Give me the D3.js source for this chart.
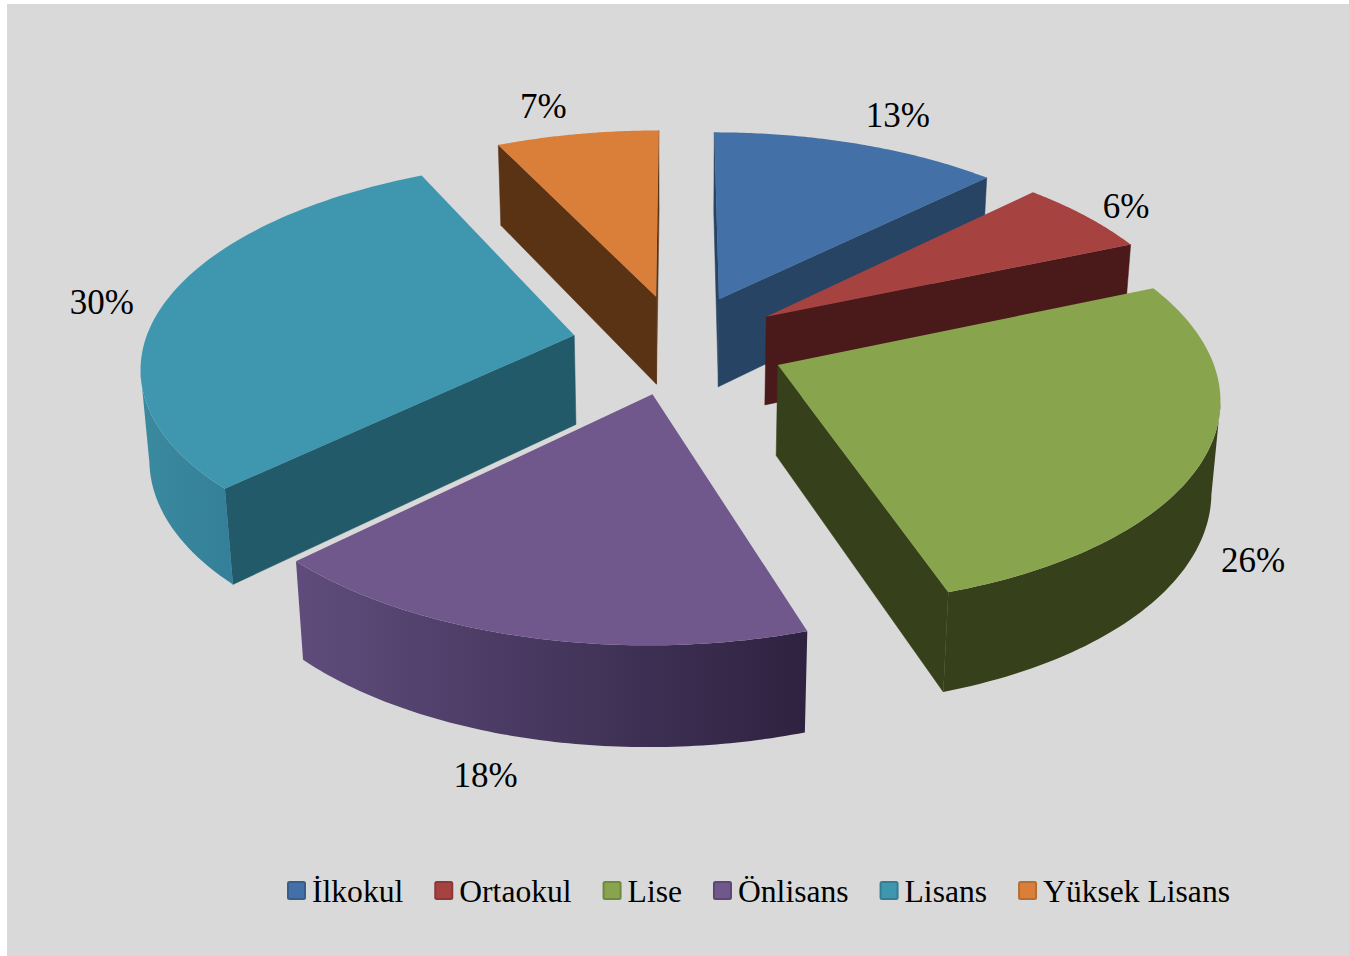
<!DOCTYPE html>
<html>
<head>
<meta charset="utf-8">
<script src="https://cdn.jsdelivr.net/npm/d3@7"></script>
<style>
  html, body { margin: 0; padding: 0; background: #fff; }
  svg { display: block; }
  text { font-family: "Liberation Serif", serif; fill: #000; }
</style>
</head>
<body>
<div id="chart"></div>
<script>
// data
const categories = ["İlkokul", "Ortaokul", "Lise", "Önlisans", "Lisans", "Yüksek Lisans"];
const shares = [12.6, 6.0, 26.4, 17.7, 30.2, 7.1];

// styles, same order as categories
const topColors = ["#4371a7", "#a64340", "#88a54d", "#70578c", "#3f97af", "#da7f39"];
const innerColors = ["#274464", "#4a1a1a", "#36401b", "#2f2340", "#235a69", "#5a3214"];
const outerFrom = ["#274464", "#4a1a1a", "#36401b", "#5f4c7c", "#3a8a9f", "#5a3214"];
const outerTo = ["#274464", "#4a1a1a", "#36401b", "#2e2240", "#34809a", "#5a3214"];
const legendStroke = ["#385d8a", "#8c3836", "#6e8a3f", "#5c4776", "#357d91", "#b66d31"];
// label nudge from the rim point of each slice
const labelShift = [[40, -28], [40, -10], [48, 104], [-39, 139], [-64, 1], [-34, -28]];

const width = 1349, height = 956;
const cx = 679, cy = 344;
const radius = 430, explode = 107, depth = 91;
const persp = 0.00032, tilt = 0.468, persZ = 0.00018;

const svg = d3.select("#chart").append("svg").attr("width", width).attr("height", height);
svg.append("rect").attr("x", 7).attr("y", 4).attr("width", width - 7).attr("height", height - 4).attr("fill", "#d9d9d9");
const defs = svg.append("defs");

// ground plane -> screen
function project(u, v, z) {
  const s = 1 / (1 - persp * v + persZ * z);
  return [cx + u * s, cy + (tilt * v + z) * s];
}

const pie = d3.pie().sort(null).value(d => d);
const arcs = pie(shares).map((a, i) => ({ ...a, i, mid: (a.startAngle + a.endAngle) / 2 }));
const line = d3.line();

function apex(a, z) {
  return project(explode * Math.sin(a.mid), -explode * Math.cos(a.mid), z);
}
function rim(a, t, z) {
  const ax = explode * Math.sin(a.mid), ay = -explode * Math.cos(a.mid);
  return project(ax + radius * Math.sin(t), ay - radius * Math.cos(t), z);
}

// back slices first
const order = arcs.slice().sort((a, b) => Math.cos(b.mid) - Math.cos(a.mid));
const slices = svg.selectAll("g.slice").data(order).join("g").attr("class", "slice");

slices.each(function(a) {
  const g = d3.select(this);
  const angle = d3.scaleLinear().domain([0, 80]).range([a.startAngle, a.endAngle]);
  const ts = d3.range(81).map(angle);
  const rimTop = ts.map(t => rim(a, t, 0));
  const rimBot = ts.map(t => rim(a, t, depth));
  const A = apex(a, 0), B = apex(a, depth);

  // straight walls, only the ones facing down to the viewer
  const walls = [
    [A, rimTop[0], rimBot[0], B],
    [rimTop[80], A, B, rimBot[80]]
  ];
  walls.forEach(w => {
    if (w[1][0] < w[0][0]) {
      g.append("path").attr("d", line(w) + "Z").attr("fill", innerColors[a.i])
        .attr("stroke", innerColors[a.i]).attr("stroke-width", 0.5);
    }
  });

  // outer wall, rim runs clockwise so visible part goes left on screen
  const vis = d3.range(80).filter(k => rimTop[k + 1][0] < rimTop[k][0]);
  if (vis.length) {
    const first = vis[0], last = vis[vis.length - 1] + 1;
    const upper = rimTop.slice(first, last + 1), lower = rimBot.slice(first, last + 1).reverse();
    const id = "outer" + a.i;
    const grad = defs.append("linearGradient").attr("id", id).attr("gradientUnits", "userSpaceOnUse")
      .attr("x1", d3.min(upper, d => d[0])).attr("x2", d3.max(upper, d => d[0])).attr("y1", 0).attr("y2", 0);
    grad.append("stop").attr("offset", 0).attr("stop-color", outerFrom[a.i]);
    grad.append("stop").attr("offset", 1).attr("stop-color", outerTo[a.i]);
    g.append("path").attr("d", line(upper.concat(lower)) + "Z").attr("fill", `url(#${id})`);
  }

  // top face
  g.append("path").attr("d", line([A].concat(rimTop)) + "Z").attr("fill", topColors[a.i]);
});

// percent labels
svg.selectAll("text.pct").data(arcs).join("text").attr("class", "pct")
  .attr("x", a => rim(a, a.mid, 0)[0] + labelShift[a.i][0])
  .attr("y", a => rim(a, a.mid, 0)[1] + labelShift[a.i][1])
  .attr("dy", "0.33em")
  .attr("text-anchor", "middle")
  .attr("font-size", 35)
  .text(a => Math.round(a.value) + "%");

// legend, flowed by text width
const legend = svg.append("g");
let lx = 288;
categories.forEach((c, i) => {
  legend.append("rect").attr("x", lx).attr("y", 882).attr("width", 17).attr("height", 17).attr("rx", 1.5)
    .attr("fill", topColors[i]).attr("stroke", legendStroke[i]).attr("stroke-width", 2);
  const t = legend.append("text").attr("x", lx + 24).attr("y", 902).attr("font-size", 31.6).text(c);
  lx += 23 + t.node().getComputedTextLength() + 33;
});
</script>
</body>
</html>
